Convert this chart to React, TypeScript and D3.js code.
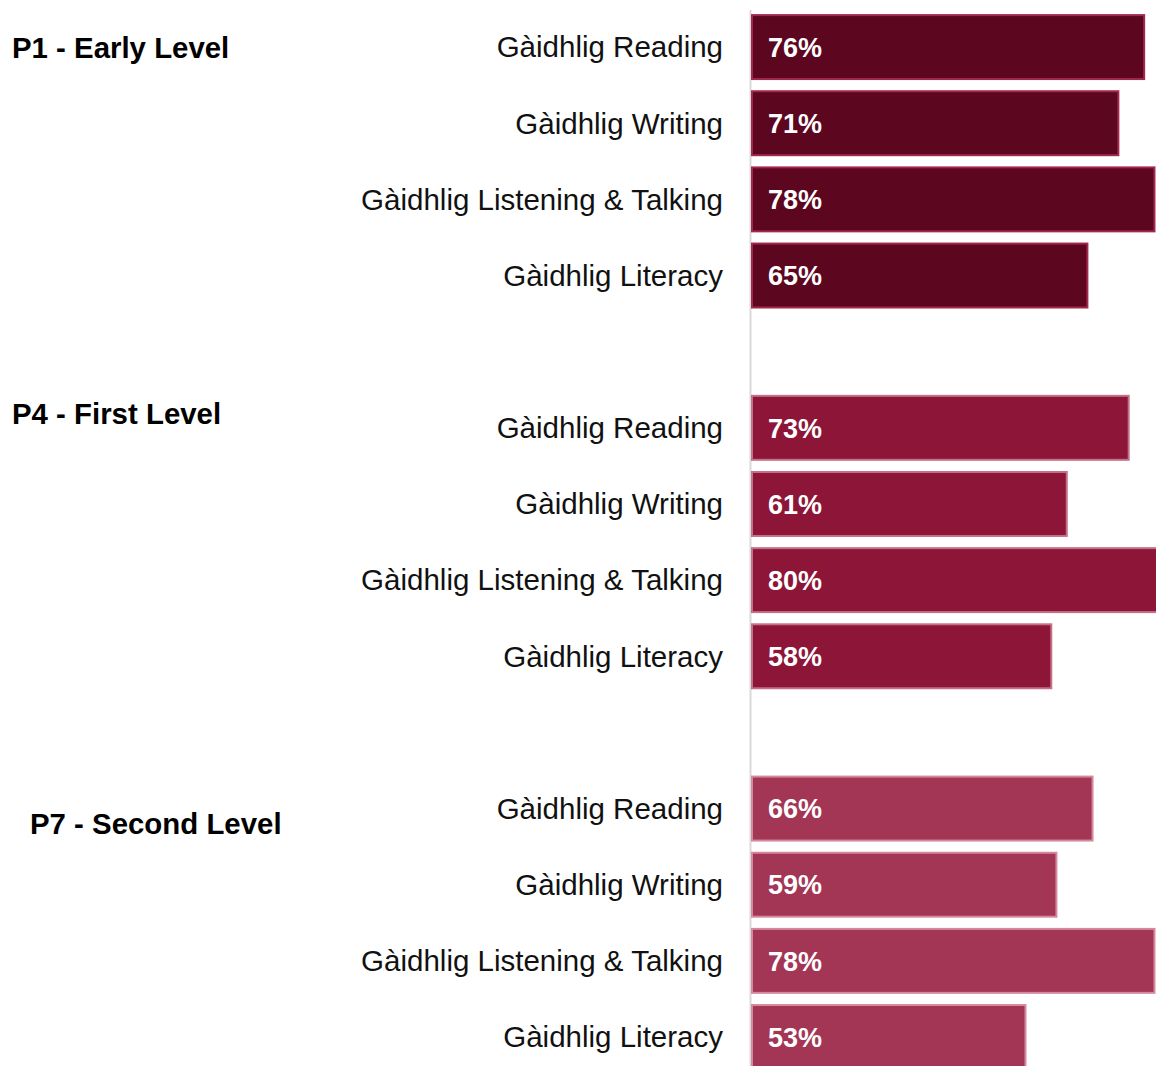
import React from "react";
import * as d3 from "d3";

const groups = ["P1 - Early Level", "P4 - First Level", "P7 - Second Level"];
const categories = ["Gàidhlig Reading", "Gàidhlig Writing", "Gàidhlig Listening & Talking", "Gàidhlig Literacy"];
const p1Values = [76, 71, 78, 65];
const p4Values = [73, 61, 80, 58];
const p7Values = [66, 59, 78, 53];
const groupValues = [p1Values, p4Values, p7Values];
const groupColors = ["#5c0620", "#8c1538", "#a33555"];
const groupStrokes = ["#a3284f", "#c47088", "#d4899f"];

const W = 1156;
const H = 1066;
const barLeft = 752;
const labelRight = 723;
const groupLabelPos = [
  { x: 12, y: 58 },
  { x: 12, y: 424 },
  { x: 30, y: 834 },
];

export default function App() {
  const slots = d3.range(14);
  const y = d3
    .scaleBand<number>()
    .domain(slots)
    .range([9, 9 + 14 * 76.15])
    .paddingInner(0.16)
    .paddingOuter(0.08);
  const x = d3.scaleLinear().domain([0, 100]).range([barLeft, barLeft + 516]);

  const rows = groupValues.flatMap((vals, g) =>
    vals.map((v, i) => ({ g, i, v, slot: g * 5 + i, cat: categories[i] }))
  );

  return (
    <svg
      width={W}
      height={H}
      style={{ position: "absolute", left: 0, top: 0, display: "block", background: "#fff" }}
      fontFamily="'Liberation Sans', Arial, sans-serif"
    >
      <line x1={750.5} x2={750.5} y1={10} y2={H} stroke="#d9d9d9" strokeWidth={2} />
      {rows.map((r) => {
        const y0 = y(r.slot)!;
        const bw = y.bandwidth();
        return (
          <g key={`${r.g}-${r.i}`}>
            <rect
              x={x(0)}
              y={y0}
              width={x(r.v) - x(0)}
              height={bw}
              fill={groupColors[r.g]}
              stroke={groupStrokes[r.g]}
              strokeWidth={2}
            />
            <text
              x={labelRight}
              y={y0 + bw / 2}
              dy="0.35em"
              textAnchor="end"
              fontSize={29.5}
              fill="#111"
            >
              {r.cat}
            </text>
            <text
              x={768}
              y={y0 + bw / 2}
              dy="0.36em"
              fontSize={27}
              fontWeight="bold"
              fill="#fff"
            >
              {`${r.v}%`}
            </text>
          </g>
        );
      })}
      {groups.map((gName, g) => (
        <text
          key={gName}
          x={groupLabelPos[g].x}
          y={groupLabelPos[g].y}
          fontSize={29.4}
          fontWeight="bold"
          fill="#000"
        >
          {gName}
        </text>
      ))}
    </svg>
  );
}
